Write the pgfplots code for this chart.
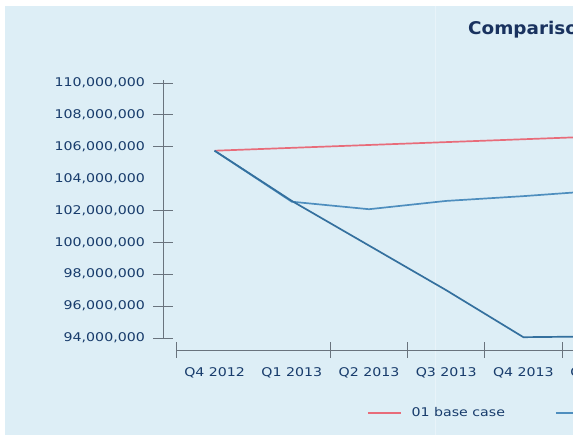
\documentclass[border=0pt]{standalone}
\usepackage{pgfplots}
\pgfplotsset{compat=1.18}
\usepackage{fontspec}
\setmainfont{DejaVu Sans}
\newfontfamily\chartfont[FakeStretch=1.18]{DejaVu Sans}
\newfontfamily\titlefont[FakeStretch=1.05]{DejaVu Sans}
\definecolor{bg}{RGB}{221,238,246}
\definecolor{navy}{RGB}{24,60,108}
\definecolor{titlenavy}{RGB}{25,50,95}
\definecolor{axisgray}{RGB}{105,115,125}
\definecolor{redline}{RGB}{232,108,122}
\definecolor{blueA}{RGB}{78,142,190}
\definecolor{blueB}{RGB}{52,112,158}
\begin{document}
\begin{tikzpicture}[x=1pt,y=1pt]
\useasboundingbox (0,0) rectangle (573,435);
\clip (0,0) rectangle (573,435);
\fill[white] (0,0) rectangle (573,435);
\fill[bg] (5,0) rectangle (573,429);
\draw[white,opacity=0.35,line width=1pt] (435,0) -- (435,429);
\node[anchor=base west, inner sep=0pt, text=titlenavy] at (468,400) {\titlefont\fontsize{17.5}{19}\selectfont\bfseries Comparison};
\begin{axis}[
  at={(176pt,97pt)}, anchor=south west,
  scale only axis, width=501.8pt, height=258.2pt,
  xmin=-0.5, xmax=6, ymin=94000000, ymax=110200000,
  scaled y ticks=false,
  separate axis lines,
  axis x line*=bottom, axis y line*=left,
  axis x line shift=12pt, axis y line shift=13pt,
  axis line style={axisgray, line width=0.9pt, -},
  tick align=center,
  major tick length=20pt,
  minor tick length=16pt,
  tick style={axisgray, line width=0.8pt},
  major x tick style={draw=none},
  xtick={0,1,2,3,4,5},
  xticklabels={Q4 2012, Q1 2013, Q2 2013, Q3 2013, Q4 2013, Q1 2014},
  minor xtick={-0.5,1.5,2.5,3.5,4.5,5.5},
  ytick={94000000,96000000,98000000,100000000,102000000,106000000,108000000,110000000},
  yticklabels={94{,}000{,}000,96{,}000{,}000,98{,}000{,}000,100{,}000{,}000,102{,}000{,}000,106{,}000{,}000,108{,}000{,}000,110{,}000{,}000},
  extra y ticks={104000000},
  extra y tick labels={104{,}000{,}000},
  extra y tick style={tick style={draw=none}},
  every tick label/.append style={font=\chartfont\fontsize{12}{14}\selectfont, text=navy},
  yticklabel style={anchor=east, inner sep=0pt, xshift=-8pt},
  xticklabel style={anchor=north, inner sep=0pt, yshift=-7pt},
  legend columns=-1,
  legend image code/.code={\draw[#1] (0pt,0pt) -- (33pt,0pt);},
  legend style={at={(0.3806,-0.2905)}, anchor=west, draw=none, fill=none,
    inner sep=0pt, outer sep=0pt,
    font=\chartfont\fontsize{12}{14}\selectfont, text=navy,
    /tikz/every odd column/.append style={column sep=8pt},
    /tikz/every even column/.append style={column sep=48pt}},
  clip=false,
]
\addplot[redline, line width=1.7pt] coordinates {
  (0,105750000) (1,105930000) (2,106110000) (3,106290000) (4,106470000) (5,106650000) (6,106830000)};
\addlegendentry{01 base case}
\addplot[blueA, line width=1.7pt] coordinates {
  (0,105750000) (1,102550000) (2,102080000) (3,102600000) (4,102900000) (5,103250000) (6,103600000)};
\addlegendentry{02 scenario}
\addplot[blueB, line width=1.7pt, forget plot] coordinates {
  (0,105750000) (1,102600000) (2,99800000) (3,97000000) (4,94050000) (5,94100000) (6,94150000)};
\end{axis}
\end{tikzpicture}
\end{document}
